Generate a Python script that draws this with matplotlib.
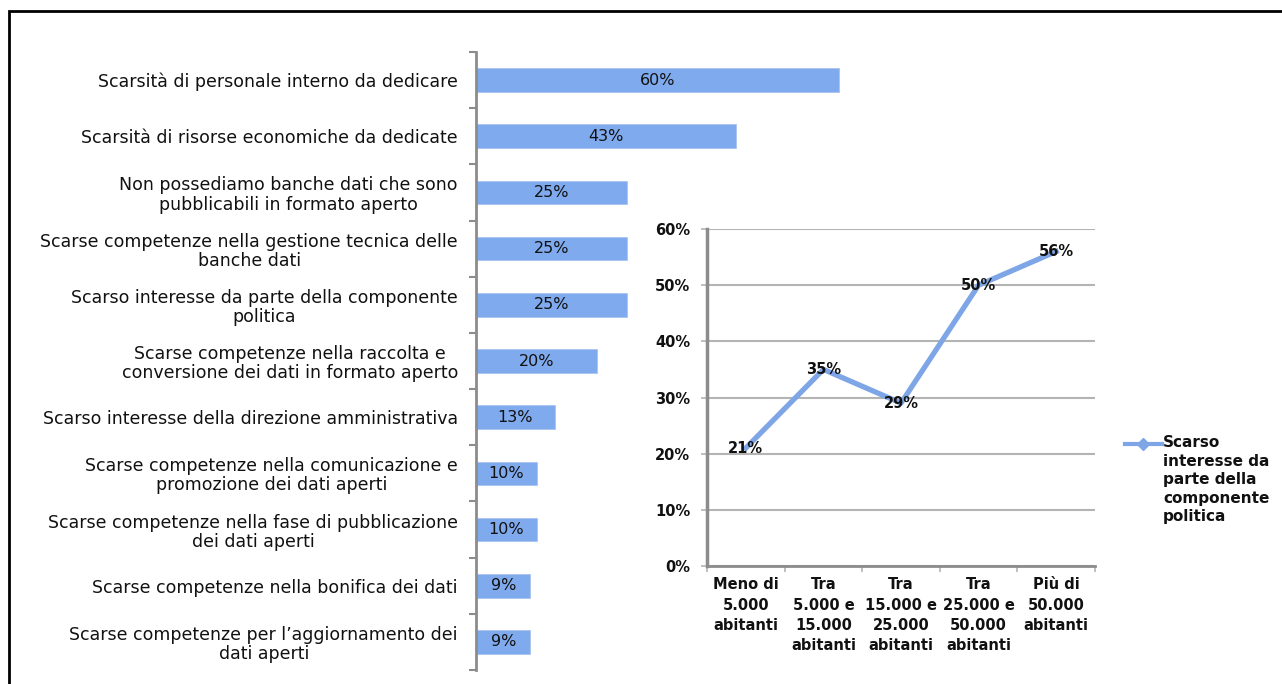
import matplotlib.pyplot as plt
from matplotlib.lines import Line2D
from matplotlib.patches import Rectangle

# Data for the horizontal bar chart (top to bottom)
reasons = [
    "Scarsità di personale interno da dedicare",
    "Scarsità di risorse economiche da dedicate",
    "Non possediamo banche dati che sono\npubblicabili in formato aperto",
    "Scarse competenze nella gestione tecnica delle\nbanche dati",
    "Scarso interesse da parte della componente\npolitica",
    "Scarse competenze nella raccolta e\nconversione dei dati in formato aperto",
    "Scarso interesse della direzione amministrativa",
    "Scarse competenze nella comunicazione e\npromozione dei dati aperti",
    "Scarse competenze nella fase di pubblicazione\ndei dati aperti",
    "Scarse competenze nella bonifica dei dati",
    "Scarse competenze per l\u2019aggiornamento dei\ndati aperti",
]
reason_pct = [60, 43, 25, 25, 25, 20, 13, 10, 10, 9, 9]

# Data for the line chart (by town size)
size_classes = [
    "Meno di\n5.000\nabitanti",
    "Tra\n5.000 e\n15.000\nabitanti",
    "Tra\n15.000 e\n25.000\nabitanti",
    "Tra\n25.000 e\n50.000\nabitanti",
    "Più di\n50.000\nabitanti",
]
politics_pct = [21, 35, 29, 50, 56]
legend_label = "Scarso\ninteresse da\nparte della\ncomponente\npolitica"

W, H = 1282, 684
bar_color = "#7faaee"
line_color = "#7ea6e6"
axis_gray = "#8c8c8c"
grid_gray = "#b4b4b4"
text_color = "#111111"


def px_axes(fig, left, top, right, bottom):
    # Add axes using pixel coordinates measured from the top-left corner
    return fig.add_axes([left / W, 1 - bottom / H, (right - left) / W, (bottom - top) / H])


plt.rcParams['font.family'] = 'DejaVu Sans'
fig = plt.figure(figsize=(W / 100, H / 100), dpi=100)

# Black frame around the picture (open on the right and bottom)
fig.add_artist(Rectangle((9 / W, -0.1), 1.2, 1 - 11 / H + 0.1, transform=fig.transFigure,
                         fill=False, edgecolor="black", linewidth=2))

# ---- Horizontal bar chart ----
ax1 = px_axes(fig, 476, 52, 1081, 670)
n = len(reasons)
ypos = list(range(n))
ax1.barh(ypos, reason_pct, height=0.42, color=bar_color, edgecolor="#a9c4f0", linewidth=0.6)
for y, v in zip(ypos, reason_pct):
    ax1.text(v / 2, y, "{}%".format(v), ha="center", va="center", fontsize=11.5, color=text_color)
ax1.set_xlim(0, 100)
ax1.set_ylim(n - 0.5, -0.5)
ax1.set_yticks(ypos)
ax1.set_yticklabels(reasons, fontsize=12.5, color=text_color, linespacing=1.08)
for lab in ax1.get_yticklabels():
    lab.set_multialignment("center")
ax1.set_yticks([i - 0.5 for i in range(n + 1)], minor=True)
ax1.tick_params(axis="y", which="major", length=0, pad=13)
ax1.tick_params(axis="y", which="minor", length=5, color=axis_gray, width=1.5)
ax1.set_xticks([])
for s in ["top", "right", "bottom"]:
    ax1.spines[s].set_visible(False)
ax1.spines["left"].set_color(axis_gray)
ax1.spines["left"].set_linewidth(2)
ax1.patch.set_alpha(0)

# ---- Line chart ----
ax2 = px_axes(fig, 707, 229, 1095, 566)
xs = list(range(len(size_classes)))
ax2.plot(xs, politics_pct, color=line_color, linewidth=3.8, solid_joinstyle="round", zorder=3)
for x, v in zip(xs, politics_pct):
    ax2.text(x, v, "{}%".format(v), ha="center", va="center", fontsize=10.5,
             fontweight="bold", color=text_color, zorder=4)
ax2.set_xlim(-0.5, len(size_classes) - 0.5)
ax2.set_ylim(0, 60)
ax2.set_yticks(range(0, 61, 10))
ax2.set_yticklabels(["{}%".format(t) for t in range(0, 61, 10)], fontsize=10.5,
                    fontweight="bold", color=text_color)
ax2.set_xticks(xs)
ax2.set_xticklabels(size_classes, fontsize=10.5, fontweight="bold", color=text_color,
                    linespacing=1.45)
ax2.set_xticks([i - 0.5 for i in range(len(size_classes) + 1)], minor=True)
ax2.tick_params(axis="x", which="major", length=0, pad=8)
ax2.tick_params(axis="x", which="minor", length=4, color=grid_gray, width=1.2)
ax2.tick_params(axis="y", length=4, color=grid_gray, width=1.2, pad=8)
ax2.grid(axis="y", color=grid_gray, linewidth=1.5)
ax2.set_axisbelow(True)
for s in ["top", "right"]:
    ax2.spines[s].set_visible(False)
ax2.spines["left"].set_color(axis_gray)
ax2.spines["left"].set_linewidth(2.5)
ax2.spines["bottom"].set_color(axis_gray)
ax2.spines["bottom"].set_linewidth(2)

# Legend drawn by hand so the marker sits next to the first text line
ly = 1 - 444 / H
fig.add_artist(Line2D([1125 / W, 1162 / W], [ly, ly], transform=fig.transFigure,
                      color=line_color, linewidth=3))
fig.add_artist(Line2D([1143 / W], [ly], transform=fig.transFigure, color=line_color,
                      marker="D", markersize=6, linestyle="none"))
fig.text(1163 / W, 1 - 435 / H, legend_label, ha="left", va="top", fontsize=11,
         fontweight="bold", color=text_color, linespacing=1.3)

plt.savefig("out.png", dpi=100)
